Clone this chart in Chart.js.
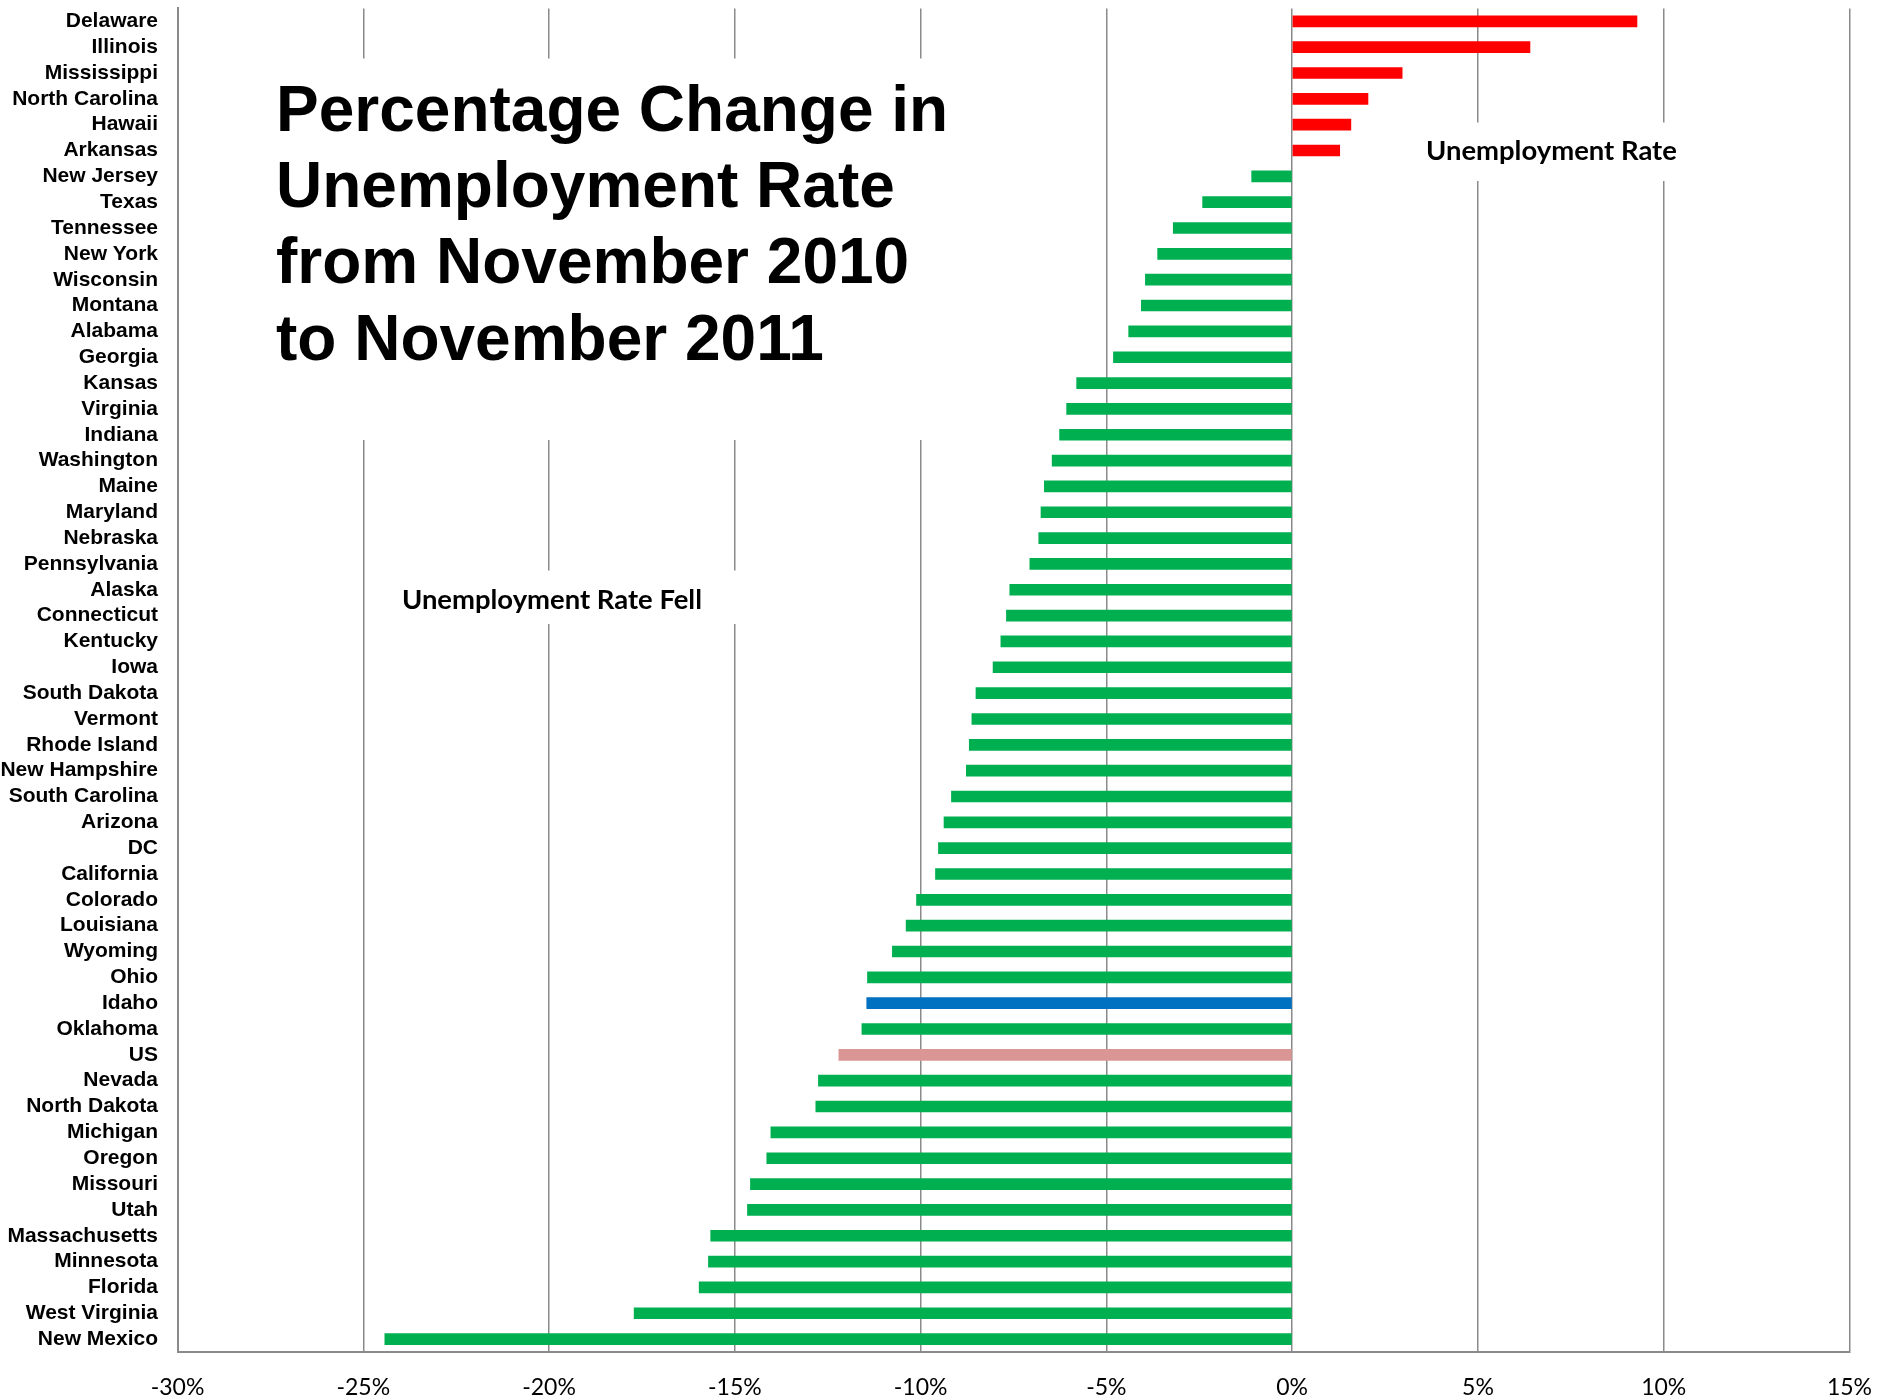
<!DOCTYPE html>
<html>
<head>
<meta charset="utf-8">
<script src="https://cdn.jsdelivr.net/npm/chart.js@4.4.1/dist/chart.umd.min.js"></script>
<style>
  html, body { margin: 0; padding: 0; background: #ffffff; }
  #wrap { width: 1883px; height: 1397px; position: relative; }
</style>
</head>
<body>
<div id="wrap"><canvas id="c"></canvas></div>
<script>
// ---- Data ----
const states = [
  "Delaware", "Illinois", "Mississippi", "North Carolina", "Hawaii", "Arkansas",
  "New Jersey", "Texas", "Tennessee", "New York", "Wisconsin", "Montana",
  "Alabama", "Georgia", "Kansas", "Virginia", "Indiana", "Washington",
  "Maine", "Maryland", "Nebraska", "Pennsylvania", "Alaska", "Connecticut",
  "Kentucky", "Iowa", "South Dakota", "Vermont", "Rhode Island", "New Hampshire",
  "South Carolina", "Arizona", "DC", "California", "Colorado", "Louisiana",
  "Wyoming", "Ohio", "Idaho", "Oklahoma", "US", "Nevada",
  "North Dakota", "Michigan", "Oregon", "Missouri", "Utah", "Massachusetts",
  "Minnesota", "Florida", "West Virginia", "New Mexico"
];
const pctChange = [
  9.28, 6.40, 2.96, 2.04, 1.58, 1.28,
  -1.09, -2.41, -3.20, -3.62, -3.95, -4.06,
  -4.40, -4.81, -5.80, -6.07, -6.26, -6.46,
  -6.67, -6.76, -6.82, -7.06, -7.60, -7.69,
  -7.84, -8.05, -8.51, -8.62, -8.69, -8.77,
  -9.17, -9.37, -9.52, -9.60, -10.11, -10.39,
  -10.76, -11.43, -11.45, -11.58, -12.20, -12.75,
  -12.82, -14.03, -14.14, -14.58, -14.66, -15.65,
  -15.71, -15.96, -17.71, -24.42
];
const xTicks = [-30, -25, -20, -15, -10, -5, 0, 5, 10, 15];
const titleLines = ["Percentage Change in", "Unemployment Rate", "from November 2010", "to November 2011"];
const noteRose = "Unemployment Rate";
const noteFell = "Unemployment Rate Fell";

// ---- Styles ----
const RED = "#FF0000", GREEN = "#00B050", BLUE = "#0070C0", PINK = "#D99694";
const GRID = "#8a8a8a";
const barColors = states.map((s, i) => {
  if (s === "Idaho") return BLUE;
  if (s === "US") return PINK;
  return pctChange[i] > 0 ? RED : GREEN;
});

function fitFont(ctx, text, weight, family, targetW) {
  let size = 20;
  ctx.font = weight + " " + size + "px " + family;
  const w = ctx.measureText(text).width;
  size = size * targetW / w;
  return weight + " " + size.toFixed(2) + "px " + family;
}

const annotations = {
  id: "annotations",
  beforeDatasetsDraw(chart) {
    const ctx = chart.ctx;
    ctx.save();
    // white boxes masking gridlines
    ctx.fillStyle = "#ffffff";
    ctx.fillRect(262, 58.5, 700, 381.5);
    ctx.fillRect(388, 570.5, 360, 53.5);
    ctx.fillRect(1412, 122.5, 280, 58.5);

    ctx.fillStyle = "#000000";
    ctx.textAlign = "left";
    ctx.textBaseline = "alphabetic";
    ctx.font = 'bold 64px "Liberation Sans", Arial, sans-serif';
    const baselines = [130.7, 206.7, 283.3, 360];
    titleLines.forEach((t, i) => ctx.fillText(t, 276, baselines[i]));

    ctx.font = fitFont(ctx, noteFell, "bold", "Lato, sans-serif", 300);
    ctx.fillText(noteFell, 402, 608.5);
    ctx.font = fitFont(ctx, noteRose, "bold", "Lato, sans-serif", 251);
    ctx.fillText(noteRose, 1426, 159.5);
    ctx.restore();
  }
};

new Chart(document.getElementById("c"), {
  type: "bar",
  data: {
    labels: states,
    datasets: [{
      data: pctChange,
      backgroundColor: barColors,
      borderWidth: 0,
      barThickness: 11
    }]
  },
  options: {
    indexAxis: "y",
    responsive: true,
    maintainAspectRatio: false,
    animation: false,
    layout: { padding: { top: 8.4, right: 33.5, left: 0, bottom: 0 } },
    plugins: { legend: { display: false }, tooltip: { enabled: false }, title: { display: false } },
    scales: {
      x: {
        type: "linear",
        position: "bottom",
        min: -30, max: 15,
        afterBuildTicks(scale) { scale.ticks = xTicks.map(v => ({ value: v })); },
        ticks: {
          callback: v => v + "%",
          color: "#000000",
          font: { family: "Lato, sans-serif", size: 23 },
          padding: 22,
          maxRotation: 0,
          autoSkip: false
        },
        grid: { color: GRID, lineWidth: 1.5, drawTicks: false },
        border: { display: true, color: GRID, width: 2 },
        afterFit(scale) {
          scale.height = 45;
          scale.paddingLeft = 0; scale.paddingRight = 0;
          scale.paddingTop = 0; scale.paddingBottom = 0;
        }
      },
      y: {
        type: "category",
        ticks: {
          color: "#000000",
          font: { family: '"Liberation Sans", Arial, sans-serif', size: 21, weight: "bold" },
          padding: 19.5,
          autoSkip: false
        },
        grid: { display: false, drawTicks: false },
        border: { display: true, color: GRID, width: 2 },
        afterFit(scale) {
          scale.width = 177.5;
          scale.paddingLeft = 0; scale.paddingRight = 0;
          scale.paddingTop = 0; scale.paddingBottom = 0;
        }
      }
    }
  },
  plugins: [annotations]
});
</script>
</body>
</html>
